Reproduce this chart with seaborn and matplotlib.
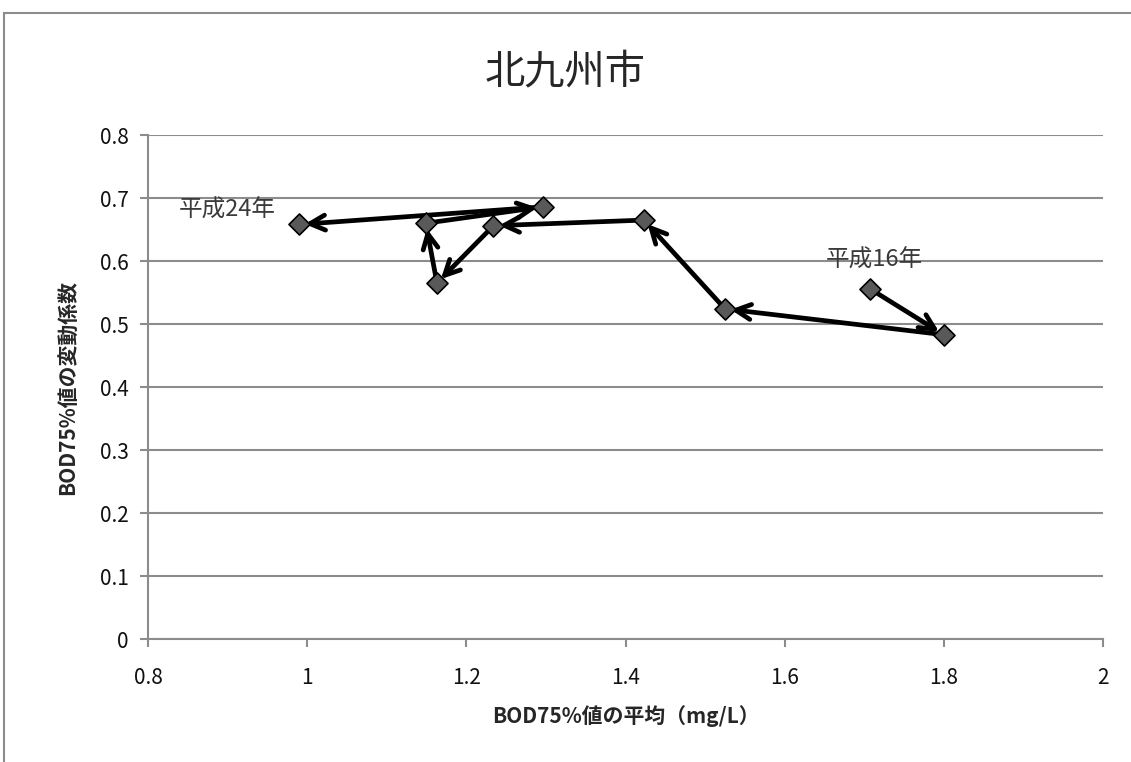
import matplotlib
matplotlib.use("Agg")
import matplotlib.pyplot as plt
import seaborn as sns
import pandas as pd
from matplotlib.patches import Rectangle

# Data: 平成16年 -> 平成24年
years = ["平成16年", "平成17年", "平成18年", "平成19年", "平成20年",
         "平成21年", "平成22年", "平成23年", "平成24年"]
bod_mean = [1.707, 1.800, 1.525, 1.423, 1.234, 1.163, 1.149, 1.296, 0.990]
bod_cv = [0.556, 0.483, 0.524, 0.665, 0.656, 0.565, 0.660, 0.686, 0.658]
x_ticks = [0.8, 1.0, 1.2, 1.4, 1.6, 1.8, 2.0]
x_ticklabels = ["0.8", "1", "1.2", "1.4", "1.6", "1.8", "2"]
y_ticks = [0, 0.1, 0.2, 0.3, 0.4, 0.5, 0.6, 0.7, 0.8]
y_ticklabels = ["0", "0.1", "0.2", "0.3", "0.4", "0.5", "0.6", "0.7", "0.8"]

df = pd.DataFrame({"year": years, "mean": bod_mean, "cv": bod_cv})

sns.set_theme(style="white")
plt.rcParams["font.family"] = ["Noto Sans CJK JP", "DejaVu Sans"]

fig = plt.figure(figsize=(11.31, 7.62), dpi=100)
ax = fig.add_axes([0.1309, 0.1614, 0.8444, 0.6614])

# outer chart border (left and top visible)
fig.patches.append(Rectangle((4 / 1131, -0.05), 1.2, (762 - 13) / 762 + 0.05,
                             transform=fig.transFigure, fill=False,
                             edgecolor="#8c8c8c", linewidth=1.5, zorder=0))

ax.set_xlim(0.8, 2.0)
ax.set_ylim(0, 0.8)
ax.set_xticks(x_ticks)
ax.set_xticklabels(x_ticklabels)
ax.set_yticks(y_ticks)
ax.set_yticklabels(y_ticklabels)

ax.grid(axis="y", color="#8c8c8c", linewidth=1.5)
ax.grid(axis="x", visible=False)
ax.set_axisbelow(True)
for s in ["top", "right"]:
    ax.spines[s].set_visible(False)
for s in ["left", "bottom"]:
    ax.spines[s].set_color("#8c8c8c")
    ax.spines[s].set_linewidth(1.5)
ax.tick_params(axis="both", which="major", direction="out", length=6,
               width=1.5, color="#8c8c8c", labelsize=15,
               left=True, bottom=True, labelcolor="#111111")
ax.tick_params(axis="x", pad=14)
ax.tick_params(axis="y", pad=8)

# arrows between consecutive years
for i in range(len(bod_mean) - 1):
    ax.annotate("", xy=(bod_mean[i + 1], bod_cv[i + 1]),
                xytext=(bod_mean[i], bod_cv[i]),
                arrowprops=dict(arrowstyle="->,head_length=0.9,head_width=0.45",
                                color="black", lw=3.4,
                                shrinkA=4, shrinkB=4),
                zorder=3)

sns.scatterplot(data=df, x="mean", y="cv", marker="D", s=115,
                color="#595959", edgecolor="black", linewidth=1.2,
                ax=ax, zorder=4, legend=False)

ax.text(bod_mean[0] + 0.005, bod_cv[0] + 0.045, years[0], ha="center", va="center",
        fontsize=17, color="#3a3a3a")
ax.text(bod_mean[-1] - 0.09, bod_cv[-1] + 0.022, years[-1], ha="center",
        va="center", fontsize=17, color="#3a3a3a")

ax.set_xlabel("BOD75%値の平均（mg/L）", fontsize=15, fontweight="bold", labelpad=12)
ax.set_ylabel("BOD75%値の変動係数", fontsize=15, fontweight="bold", labelpad=16)
fig.text(0.5, 1 - 72 / 762, "北九州市", ha="center", va="center", fontsize=29)

fig.savefig("out.png", dpi=100)
